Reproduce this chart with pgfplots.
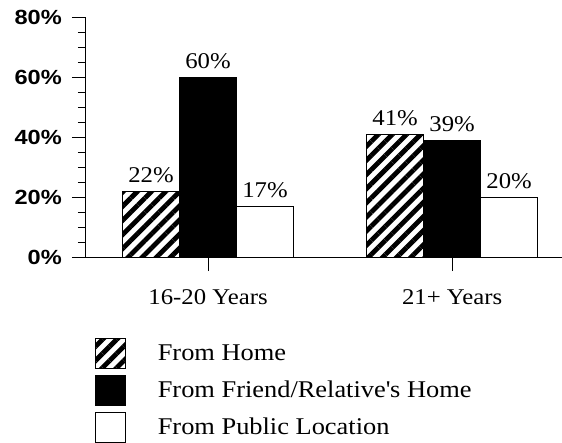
\documentclass[border=0pt]{standalone}
\usepackage{fontspec}
\setmainfont{Liberation Serif}[FakeStretch=1.1]
\newfontfamily\tickfont{Liberation Sans}[FakeStretch=1.15]
\usepackage{pgfplots}
\pgfplotsset{compat=1.18}
\usetikzlibrary{patterns.meta}

\begin{document}
\begin{tikzpicture}
\path[use as bounding box] (-86pt,-185pt) rectangle (476pt,257pt);
\begin{axis}[
  at={(0pt,0pt)}, anchor=south west,
  scale only axis, width=476pt, height=240pt,
  xmin=-0.5, xmax=1.45, ymin=0, ymax=80,
  ybar=0pt, bar width=57pt,
  axis x line*=bottom, axis y line*=left,
  axis line style={line width=1pt, -},
  xtick={0,1}, xticklabels={16-20 Years, 21+ Years},
  ytick={0,20,40,60,80}, yticklabels={0\%,20\%,40\%,60\%,80\%},
  minor ytick={5,10,15,25,30,35,45,50,55,65,70,75},
  tick align=outside, major tick length=14pt, minor tick length=8pt,
  tick style={black, line width=1pt},
  /pgf/number format/assume math mode=true,
  yticklabel style={font=\tickfont\bfseries\fontsize{20.5}{20.5}\selectfont, inner sep=0pt, xshift=-10pt},
  xticklabel style={font=\fontsize{22.5}{22.5}\selectfont, inner sep=0pt, yshift=-18pt},
  nodes near coords={\pgfmathprintnumber{\pgfplotspointmeta}\%},
  every node near coord/.append style={font=\fontsize{22.5}{22.5}\selectfont, inner sep=0pt, yshift=8pt, black},
  legend image code/.code={\draw[#1,line width=0.8pt] (0pt,-15pt) rectangle (30pt,15pt);},
  legend style={at={(0.0189,-0.3375)}, anchor=north west, draw=none, fill=none,
    inner sep=0pt, outer sep=0pt, row sep=6pt, column sep=32pt,
    font=\fontsize{24}{24}\selectfont, nodes={inner sep=0pt}},
  legend cell align=left,
]
\addplot[draw=black, line width=0.8pt, pattern={Lines[angle=45,distance=10pt,line width=4.8pt]}]
  coordinates {(0,22) (1,41)};
\addplot[draw=black, line width=0.8pt, fill=black]
  coordinates {(0,60) (1,39)};
\addplot[draw=black, line width=0.8pt, fill=white]
  coordinates {(0,17) (1,20)};
\legend{From Home, From Friend/Relative\textquotesingle s Home, From Public Location}
\end{axis}
\end{tikzpicture}
\end{document}
